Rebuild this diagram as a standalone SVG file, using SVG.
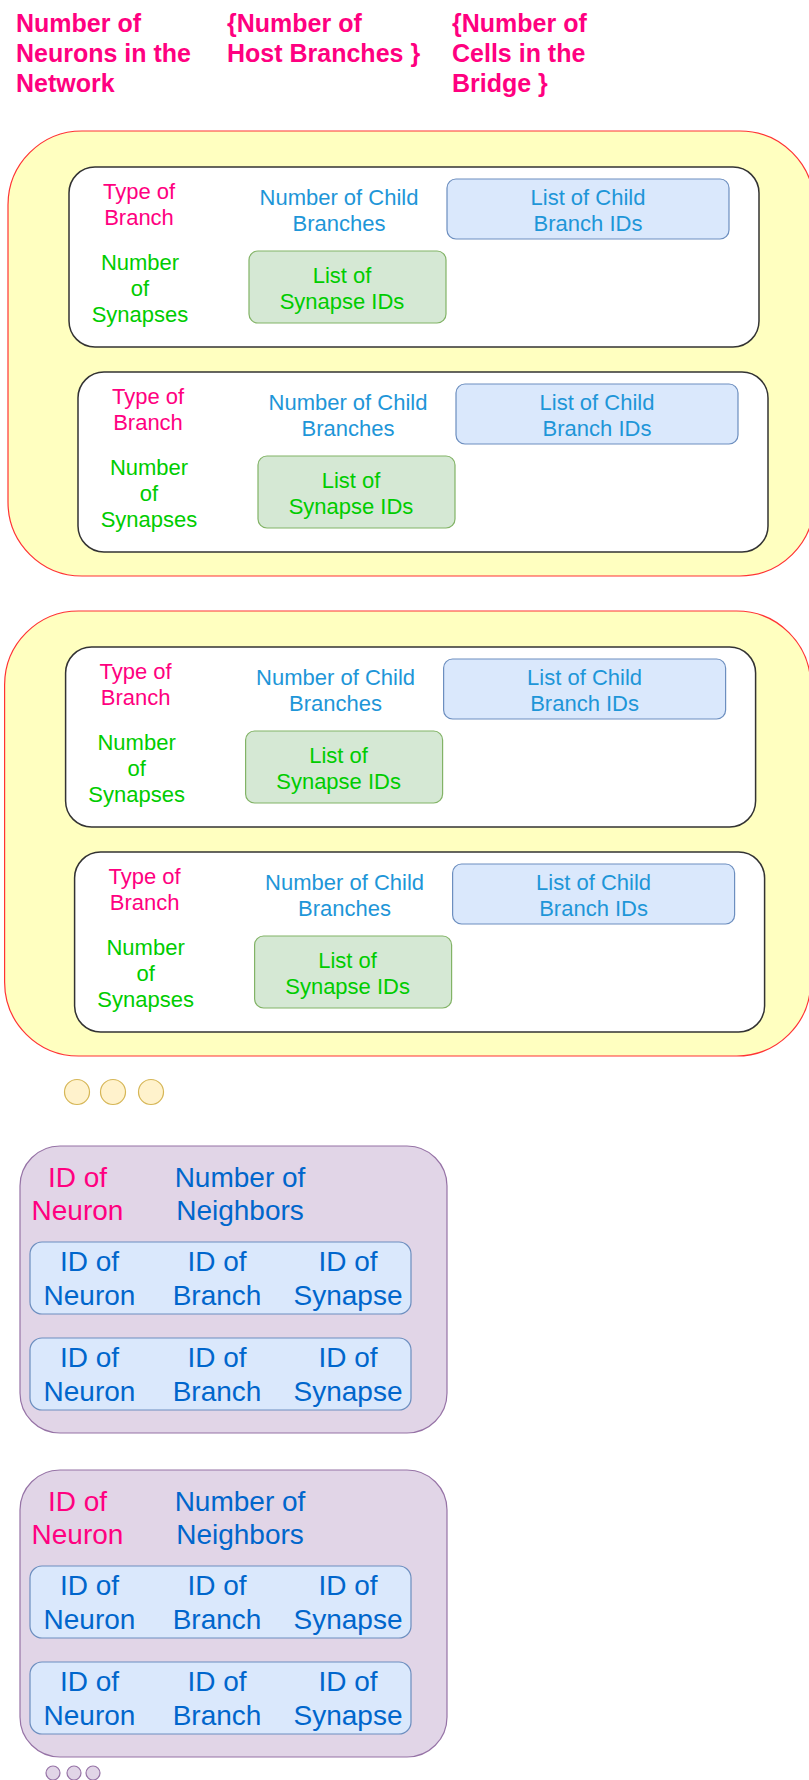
<svg xmlns="http://www.w3.org/2000/svg" width="809" height="1780" viewBox="0 0 809 1780">
<style>
text{font-family:"Liberation Sans",Arial,Helvetica,sans-serif;}
.hdr{font-size:25px;font-weight:bold;fill:#FF0080;}
.t22{font-size:22px;text-anchor:middle;}
.t28{font-size:28px;text-anchor:middle;}
.pink{fill:#FF0080;}
.lblue{fill:#1E96D8;}
.green{fill:#00CC00;}
.dblue{fill:#0066CC;}
.yel{fill:#FFFFC0;stroke:#FF3333;stroke-width:1.2;}
.wbox{fill:#FFFFFF;stroke:#333333;stroke-width:1.5;}
.bbox{fill:#DAE8FC;stroke:#6C8EBF;stroke-width:1.2;}
.gbox{fill:#D5E8D4;stroke:#82B366;stroke-width:1.2;}
.pbox{fill:#E1D5E7;stroke:#9673A6;stroke-width:1.2;}
.dot{fill:#FFF2CC;stroke:#D6B656;stroke-width:1.2;}
.pdot{fill:#E1D5E7;stroke:#9673A6;stroke-width:1.2;}
</style>
<defs>
<g id="branch">
<rect class="wbox" x="69" y="167" width="690" height="180" rx="26"/>
<text class="t22 pink" x="139" y="199">Type of</text>
<text class="t22 pink" x="139" y="225">Branch</text>
<text class="t22 lblue" x="339" y="205">Number of Child</text>
<text class="t22 lblue" x="339" y="231">Branches</text>
<rect class="bbox" x="447" y="179" width="282" height="60" rx="9"/>
<text class="t22 lblue" x="588" y="205">List of Child</text>
<text class="t22 lblue" x="588" y="231">Branch IDs</text>
<text class="t22 green" x="140" y="270">Number</text>
<text class="t22 green" x="140" y="296">of</text>
<text class="t22 green" x="140" y="322">Synapses</text>
<rect class="gbox" x="249" y="251" width="197" height="72" rx="9"/>
<text class="t22 green" x="342" y="283">List of</text>
<text class="t22 green" x="342" y="309">Synapse IDs</text>
</g>
<g id="cell">
<rect class="pbox" x="20" y="1146" width="427" height="287" rx="40"/>
<text class="t28 pink" x="77.5" y="1187">ID of</text>
<text class="t28 pink" x="77.5" y="1220">Neuron</text>
<text class="t28 dblue" x="240" y="1187">Number of</text>
<text class="t28 dblue" x="240" y="1220">Neighbors</text>
<rect class="bbox" x="30" y="1242" width="381" height="72" rx="12"/>
<text class="t28 dblue" x="89.5" y="1271">ID of</text>
<text class="t28 dblue" x="89.5" y="1305">Neuron</text>
<text class="t28 dblue" x="217" y="1271">ID of</text>
<text class="t28 dblue" x="217" y="1305">Branch</text>
<text class="t28 dblue" x="348" y="1271">ID of</text>
<text class="t28 dblue" x="348" y="1305">Synapse</text>
<rect class="bbox" x="30" y="1338" width="381" height="72" rx="12"/>
<text class="t28 dblue" x="89.5" y="1367">ID of</text>
<text class="t28 dblue" x="89.5" y="1401">Neuron</text>
<text class="t28 dblue" x="217" y="1367">ID of</text>
<text class="t28 dblue" x="217" y="1401">Branch</text>
<text class="t28 dblue" x="348" y="1367">ID of</text>
<text class="t28 dblue" x="348" y="1401">Synapse</text>
</g>
</defs>
<rect x="0" y="0" width="809" height="1780" fill="#FFFFFF"/>
<g id="header">
<text class="hdr" x="16" y="32">Number of</text>
<text class="hdr" x="16" y="62">Neurons in the</text>
<text class="hdr" x="16" y="92">Network</text>
<text class="hdr" x="227" y="32">{Number of</text>
<text class="hdr" x="227" y="62">Host Branches }</text>
<text class="hdr" x="452" y="32">{Number of</text>
<text class="hdr" x="452" y="62">Cells in the</text>
<text class="hdr" x="452" y="92">Bridge }</text>
</g>
<g id="host1">
<rect class="yel" x="8" y="131" width="806" height="445" rx="74"/>
<g id="host1-branch1"><use href="#branch"/></g>
<g id="host1-branch2"><use href="#branch" transform="translate(9,205)"/></g>
</g>
<g id="host2" transform="translate(-3.4,480)">
<rect class="yel" x="8" y="131" width="806" height="445" rx="74"/>
<g id="host2-branch1"><use href="#branch"/></g>
<g id="host2-branch2"><use href="#branch" transform="translate(9,205)"/></g>
</g>
<g id="ellipsis1">
<circle class="dot" cx="77" cy="1092" r="12.5"/>
<circle class="dot" cx="113" cy="1092" r="12.5"/>
<circle class="dot" cx="151" cy="1092" r="12.5"/>
</g>
<g id="cell1"><use href="#cell"/></g>
<g id="cell2"><use href="#cell" transform="translate(0,324)"/></g>
<g id="ellipsis2">
<circle class="pdot" cx="53" cy="1773" r="7"/>
<circle class="pdot" cx="74" cy="1773" r="7"/>
<circle class="pdot" cx="93" cy="1773" r="7"/>
</g>
<g id="connectors"/>
</svg>
